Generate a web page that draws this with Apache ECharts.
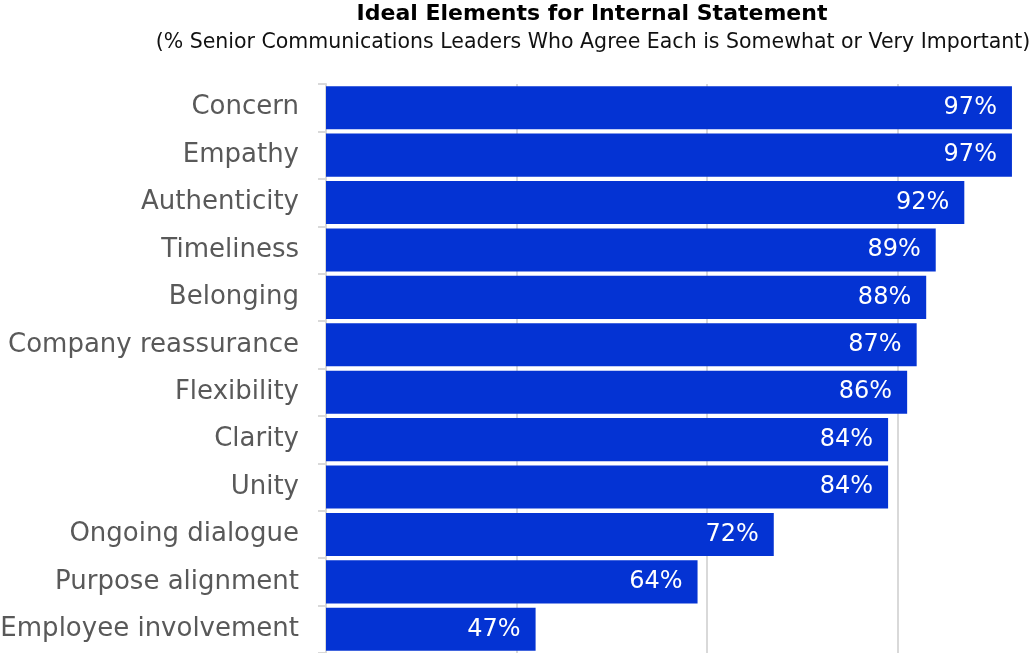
<!DOCTYPE html>
<html>
<head>
<meta charset="utf-8">
<script src="https://cdn.jsdelivr.net/npm/echarts@6/dist/echarts.min.js"></script>
<style>
  html, body { margin: 0; padding: 0; background: #ffffff; }
  #chart { width: 1032px; height: 653px; }
</style>
</head>
<body>
<div id="chart"></div>
<script>
// Share of senior communications leaders rating each element as important
const categories = [
  'Concern', 'Empathy', 'Authenticity', 'Timeliness', 'Belonging',
  'Company reassurance', 'Flexibility', 'Clarity', 'Unity',
  'Ongoing dialogue', 'Purpose alignment', 'Employee involvement'
];
const agreePct = [97, 97, 92, 89, 88, 87, 86, 84, 84, 72, 64, 47];

const titleText = 'Ideal Elements for Internal Statement';
const subtitleText = '(% Senior Communications Leaders Who Agree Each is Somewhat or Very Important)';

const FONT = '"DejaVu Sans", sans-serif';
const BAR_BLUE = '#0433d3';
const GRID_GREY = '#d9d9d9';

const chart = echarts.init(document.getElementById('chart'), null, { renderer: 'canvas' });

chart.setOption({
  backgroundColor: '#ffffff',
  animation: false,
  graphic: [
    {
      type: 'text', x: 592, y: 3,
      style: { text: titleText, textAlign: 'center', fill: '#000000',
               font: 'bold 22px ' + FONT }
    },
    {
      type: 'text', x: 593, y: 32,
      style: { text: subtitleText, textAlign: 'center', fill: '#111111',
               font: '20.5px ' + FONT }
    }
  ],
  grid: {
    left: 326, top: 84, width: 705, height: 569,
    containLabel: false, outerBoundsMode: 'none'
  },
  xAxis: {
    type: 'value',
    min: 25, max: 99, interval: 20,
    axisLine: { show: false },
    axisTick: { show: false },
    axisLabel: { show: false },
    splitLine: { show: true, showMaxLine: false, lineStyle: { color: GRID_GREY, width: 2 } }
  },
  yAxis: {
    type: 'category',
    inverse: true,
    data: categories,
    axisLine: { show: true, lineStyle: { color: GRID_GREY, width: 2 } },
    axisTick: { show: true, inside: false, length: 8, lineStyle: { color: GRID_GREY, width: 2 } },
    axisLabel: { color: '#595959', fontSize: 26, fontFamily: FONT, margin: 27 }
  },
  series: [{
    type: 'bar',
    data: agreePct,
    barCategoryGap: '9%',
    itemStyle: { color: BAR_BLUE },
    clip: true,
    label: {
      show: true,
      position: 'insideRight',
      distance: 15,
      color: '#ffffff',
      fontSize: 24,
      fontFamily: FONT,
      formatter: p => p.value + '%'
    }
  }]
});
</script>
</body>
</html>
